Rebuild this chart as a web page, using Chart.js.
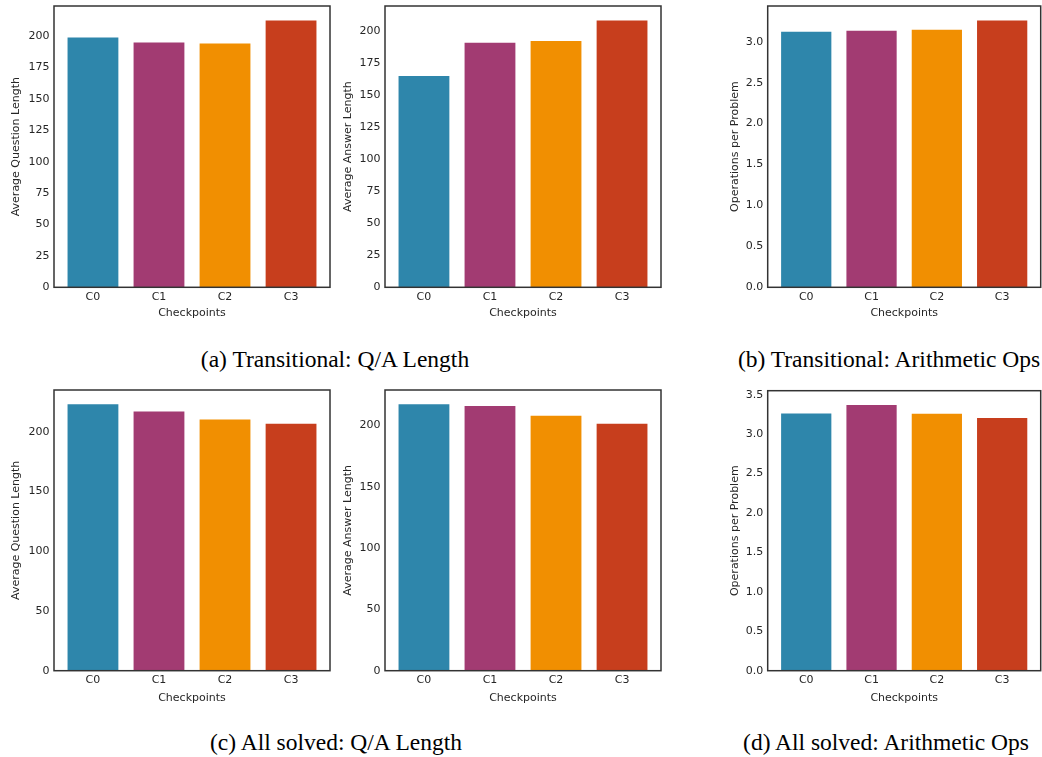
<!DOCTYPE html>
<html>
<head>
<meta charset="utf-8">
<script src="https://cdn.jsdelivr.net/npm/chart.js@4.4.1/dist/chart.umd.min.js"></script>
<style>
  html, body { margin: 0; padding: 0; background: #ffffff; }
  #figure { position: relative; width: 1042px; height: 757px; background: #ffffff; overflow: hidden; }
  .panel { position: absolute; }
  .caption {
    position: absolute;
    font-family: "Liberation Serif", "Times New Roman", serif;
    font-size: 23.5px;
    color: #000;
    white-space: nowrap;
    transform: translate(-50%, -50%);
  }
</style>
</head>
<body>
<div id="figure">
  <div class="panel" id="wrapA1"><canvas id="chartA1"></canvas></div>
  <div class="panel" id="wrapA2"><canvas id="chartA2"></canvas></div>
  <div class="panel" id="wrapB"><canvas id="chartB"></canvas></div>
  <div class="panel" id="wrapC1"><canvas id="chartC1"></canvas></div>
  <div class="panel" id="wrapC2"><canvas id="chartC2"></canvas></div>
  <div class="panel" id="wrapD"><canvas id="chartD"></canvas></div>
  <div class="caption" style="left:335px; top:359px;">(a) Transitional: Q/A Length</div>
  <div class="caption" style="left:889px; top:359px;">(b) Transitional: Arithmetic Ops</div>
  <div class="caption" style="left:336px; top:742px;">(c) All solved: Q/A Length</div>
  <div class="caption" style="left:886px; top:742px;">(d) All solved: Arithmetic Ops</div>
</div>
<script>
// Checkpoint categories and bar colours
const checkpoints = ['C0', 'C1', 'C2', 'C3'];
const barColors = ['#2E86AB', '#A23B72', '#F18F01', '#C73E1D'];

// Transitional problems
const transQuestionLen = [199.7, 195.7, 194.9, 213.4];
const transAnswerLen   = [165.6, 191.5, 192.9, 209.0];
const transOpsPerProb  = [3.135, 3.147, 3.159, 3.273];

// All solved problems
const solvedQuestionLen = [223.8, 217.9, 211.2, 207.5];
const solvedAnswerLen   = [217.9, 216.5, 208.7, 202.2];
const solvedOpsPerProb  = [3.276, 3.382, 3.272, 3.217];

// Y tick labels
const ticksLen25  = [0, 25, 50, 75, 100, 125, 150, 175, 200];
const ticksLen50  = [0, 50, 100, 150, 200];
const ticksOps30  = [0.0, 0.5, 1.0, 1.5, 2.0, 2.5, 3.0];
const ticksOps35  = [0.0, 0.5, 1.0, 1.5, 2.0, 2.5, 3.0, 3.5];

const TEXT = '#262626';
const FONT = '"DejaVu Sans", sans-serif';

// Draws the full box around the plotting area
const frame = {
  id: 'frame',
  afterDraw(chart) {
    const a = chart.chartArea, ctx = chart.ctx;
    ctx.save();
    ctx.strokeStyle = '#333333';
    ctx.lineWidth = 1.5;
    ctx.strokeRect(a.left, a.top, a.right - a.left, a.bottom - a.top);
    ctx.restore();
  }
};

// Keep the plot area exactly where the layout puts it (no label overhang padding)
function clearPadding(s) {
  s.paddingTop = 0; s.paddingBottom = 0; s.paddingLeft = 0; s.paddingRight = 0;
}

function makePanel(cfg) {
  const wrap = document.getElementById(cfg.wrap);
  wrap.style.left = cfg.box.x + 'px';
  wrap.style.top = cfg.box.y + 'px';
  wrap.style.width = cfg.box.w + 'px';
  wrap.style.height = cfg.box.h + 'px';

  const yAxisW = cfg.plot.l - cfg.box.x;
  const xAxisH = cfg.box.y + cfg.box.h - cfg.plot.b;
  const padTop = cfg.plot.t - cfg.box.y;
  const padRight = cfg.box.x + cfg.box.w - cfg.plot.r;
  const yMax = Math.max(...cfg.values) * 1.05;

  new Chart(document.getElementById(cfg.canvas), {
    type: 'bar',
    data: {
      datasets: [{
        data: cfg.values.map((v, i) => ({ x: i, y: v })),
        backgroundColor: barColors,
        borderColor: 'rgba(255,255,255,0.45)',
        borderWidth: 1,
        borderSkipped: 'start',
        categoryPercentage: 1.0,
        barPercentage: 0.8
      }]
    },
    options: {
      responsive: true,
      maintainAspectRatio: false,
      animation: false,
      layout: { padding: { left: 0, top: padTop, right: padRight, bottom: 0 } },
      plugins: { legend: { display: false }, tooltip: { enabled: false } },
      scales: {
        x: {
          type: 'linear',
          offset: false,
          min: -0.59,
          max: 3.59,
          grid: { display: false, drawTicks: false, offset: false },
          border: { display: false },
          afterBuildTicks: s => { s.ticks = checkpoints.map((_, i) => ({ value: i })); },
          afterFit: s => { s.height = xAxisH; clearPadding(s); },
          ticks: {
            padding: 3,
            color: TEXT,
            font: { family: FONT, size: 11 },
            callback: v => checkpoints[v]
          },
          title: {
            display: true,
            text: 'Checkpoints',
            color: TEXT,
            font: { family: FONT, size: 11 },
            padding: { top: 0, bottom: cfg.xTitlePad }
          }
        },
        y: {
          min: 0,
          max: yMax,
          grid: { display: false, drawTicks: false },
          border: { display: false },
          afterBuildTicks: s => { s.ticks = cfg.ticks.map(v => ({ value: v })); },
          afterFit: s => { s.width = yAxisW; clearPadding(s); },
          ticks: {
            padding: 4.5,
            color: TEXT,
            font: { family: FONT, size: 11 },
            callback: v => cfg.decimals ? v.toFixed(cfg.decimals) : String(v)
          },
          title: {
            display: true,
            text: cfg.yTitle,
            color: TEXT,
            font: { family: FONT, size: 11 },
            padding: { top: cfg.yTitlePad, bottom: 0 }
          }
        }
      }
    },
    plugins: [frame]
  });
}

makePanel({ wrap: 'wrapA1', canvas: 'chartA1', values: transQuestionLen, ticks: ticksLen25, decimals: 0,
  yTitle: 'Average Question Length', box: { x: 0, y: 0, w: 336, h: 330 },
  plot: { l: 54, t: 6, r: 330, b: 287.3 }, yTitlePad: 9.9, xTitlePad: 10.4 });
makePanel({ wrap: 'wrapA2', canvas: 'chartA2', values: transAnswerLen, ticks: ticksLen25, decimals: 0,
  yTitle: 'Average Answer Length', box: { x: 336, y: 0, w: 330, h: 330 },
  plot: { l: 385, t: 6, r: 661, b: 287.3 }, yTitlePad: 5.4, xTitlePad: 10.4 });
makePanel({ wrap: 'wrapB', canvas: 'chartB', values: transOpsPerProb, ticks: ticksOps30, decimals: 1,
  yTitle: 'Operations per Problem', box: { x: 715, y: 0, w: 327, h: 330 },
  plot: { l: 767.7, t: 6, r: 1040.7, b: 287.3 }, yTitlePad: 13.4, xTitlePad: 10.4 });
makePanel({ wrap: 'wrapC1', canvas: 'chartC1', values: solvedQuestionLen, ticks: ticksLen50, decimals: 0,
  yTitle: 'Average Question Length', box: { x: 0, y: 380, w: 336, h: 330 },
  plot: { l: 54, t: 390, r: 330, b: 670.7 }, yTitlePad: 9.9, xTitlePad: 5.6 });
makePanel({ wrap: 'wrapC2', canvas: 'chartC2', values: solvedAnswerLen, ticks: ticksLen50, decimals: 0,
  yTitle: 'Average Answer Length', box: { x: 336, y: 380, w: 330, h: 330 },
  plot: { l: 385, t: 390, r: 661, b: 670.7 }, yTitlePad: 5.4, xTitlePad: 5.6 });
makePanel({ wrap: 'wrapD', canvas: 'chartD', values: solvedOpsPerProb, ticks: ticksOps35, decimals: 1,
  yTitle: 'Operations per Problem', box: { x: 715, y: 380, w: 327, h: 330 },
  plot: { l: 767.7, t: 390.7, r: 1040.7, b: 670.7 }, yTitlePad: 13.4, xTitlePad: 5.6 });
</script>
</body>
</html>
